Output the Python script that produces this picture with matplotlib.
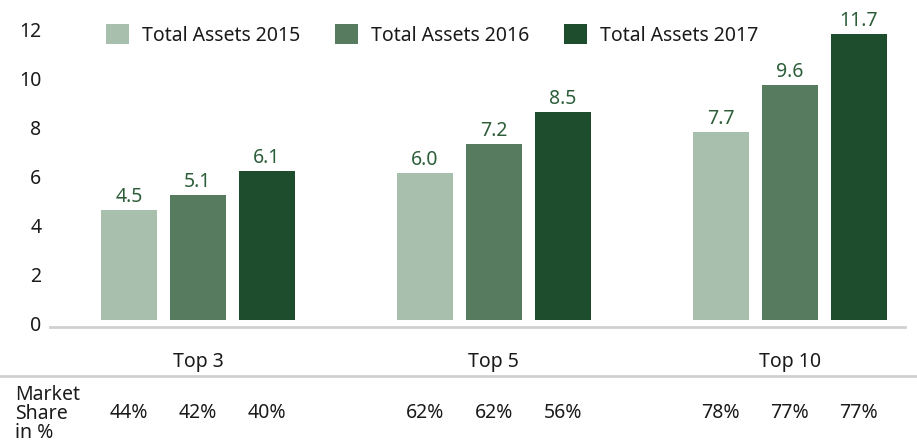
import numpy as np
import matplotlib.pyplot as plt
from matplotlib.lines import Line2D
from matplotlib.transforms import blended_transform_factory, ScaledTranslation

plt.rcParams['font.family'] = ['Noto Sans', 'DejaVu Sans']
plt.rcParams['text.color'] = '#1a1a1a'

groups = ['Top 3', 'Top 5', 'Top 10']
series = ['Total Assets 2015', 'Total Assets 2016', 'Total Assets 2017']
assets_2015 = [4.5, 6.0, 7.7]
assets_2016 = [5.1, 7.2, 9.6]
assets_2017 = [6.1, 8.5, 11.7]
share_2015 = ['44%', '62%', '78%']
share_2016 = ['42%', '62%', '77%']
share_2017 = ['40%', '56%', '77%']
yticks = [0, 2, 4, 6, 8, 10, 12]

colors = ['#a8bfae', '#567b5f', '#1e4d2e']
label_color = '#2d5e3a'
fs = 14

fig = plt.figure(figsize=(9.17, 4.47), dpi=100)
ax = fig.add_axes([50 / 917, 1 - 327 / 447, 855 / 917, 313 / 447])

x = np.arange(len(groups))
width = 0.189
step = 0.233
values = [assets_2015, assets_2016, assets_2017]
shares = [share_2015, share_2016, share_2017]

for i, (vals, name, col) in enumerate(zip(values, series, colors)):
    pos = x + (i - 1) * step
    bars = ax.bar(pos, vals, width, color=col, label=name)
    for b, v in zip(bars, vals):
        ax.text(b.get_x() + b.get_width() / 2, v + 0.12, f'{v:.1f}',
                ha='center', va='bottom', fontsize=fs, color=label_color)

ax.set_xlim(-0.5, 2.39)
ax.set_ylim(-0.28, 12.5)
ax.set_xticks([])
ax.set_yticks([])
# y labels sit a little below their value, as in the original
ytr = blended_transform_factory(ax.transAxes, ax.transData) + \
    ScaledTranslation(0, -0.06, fig.dpi_scale_trans)
for t in yticks:
    ax.text(-0.01, t, str(t), transform=ytr, ha='right', va='center', fontsize=fs)
for s in ['top', 'right', 'left']:
    ax.spines[s].set_visible(False)
ax.spines['bottom'].set_color('#d0d0d0')
ax.spines['bottom'].set_linewidth(2)

# category labels
tr = blended_transform_factory(ax.transData, fig.transFigure)
for xi, g in zip(x, groups):
    ax.text(xi, 1 - 362 / 447, g, transform=tr, ha='center', va='center', fontsize=fs)

# separator line
fig.add_artist(Line2D([0, 1], [1 - 376 / 447] * 2, color='#d0d0d0', lw=2,
                      transform=fig.transFigure))

# market share row
fig.text(15 / 917, 1 - 414 / 447, 'Market\nShare\nin %', ha='left', va='center',
         fontsize=fs, linespacing=0.95)
for i, sh in enumerate(shares):
    for xi, s in zip(x, sh):
        ax.text(xi + (i - 1) * step, 1 - 413 / 447, s, transform=tr,
                ha='center', va='center', fontsize=fs)

leg = ax.legend(loc='center left', bbox_to_anchor=(0.065, 1 - 21 / 313), ncol=3,
                frameon=False, fontsize=fs, handlelength=1.2, handleheight=1.2,
                columnspacing=1.8, handletextpad=0.65, borderpad=0, borderaxespad=0)

fig.savefig('out.png', dpi=100)
